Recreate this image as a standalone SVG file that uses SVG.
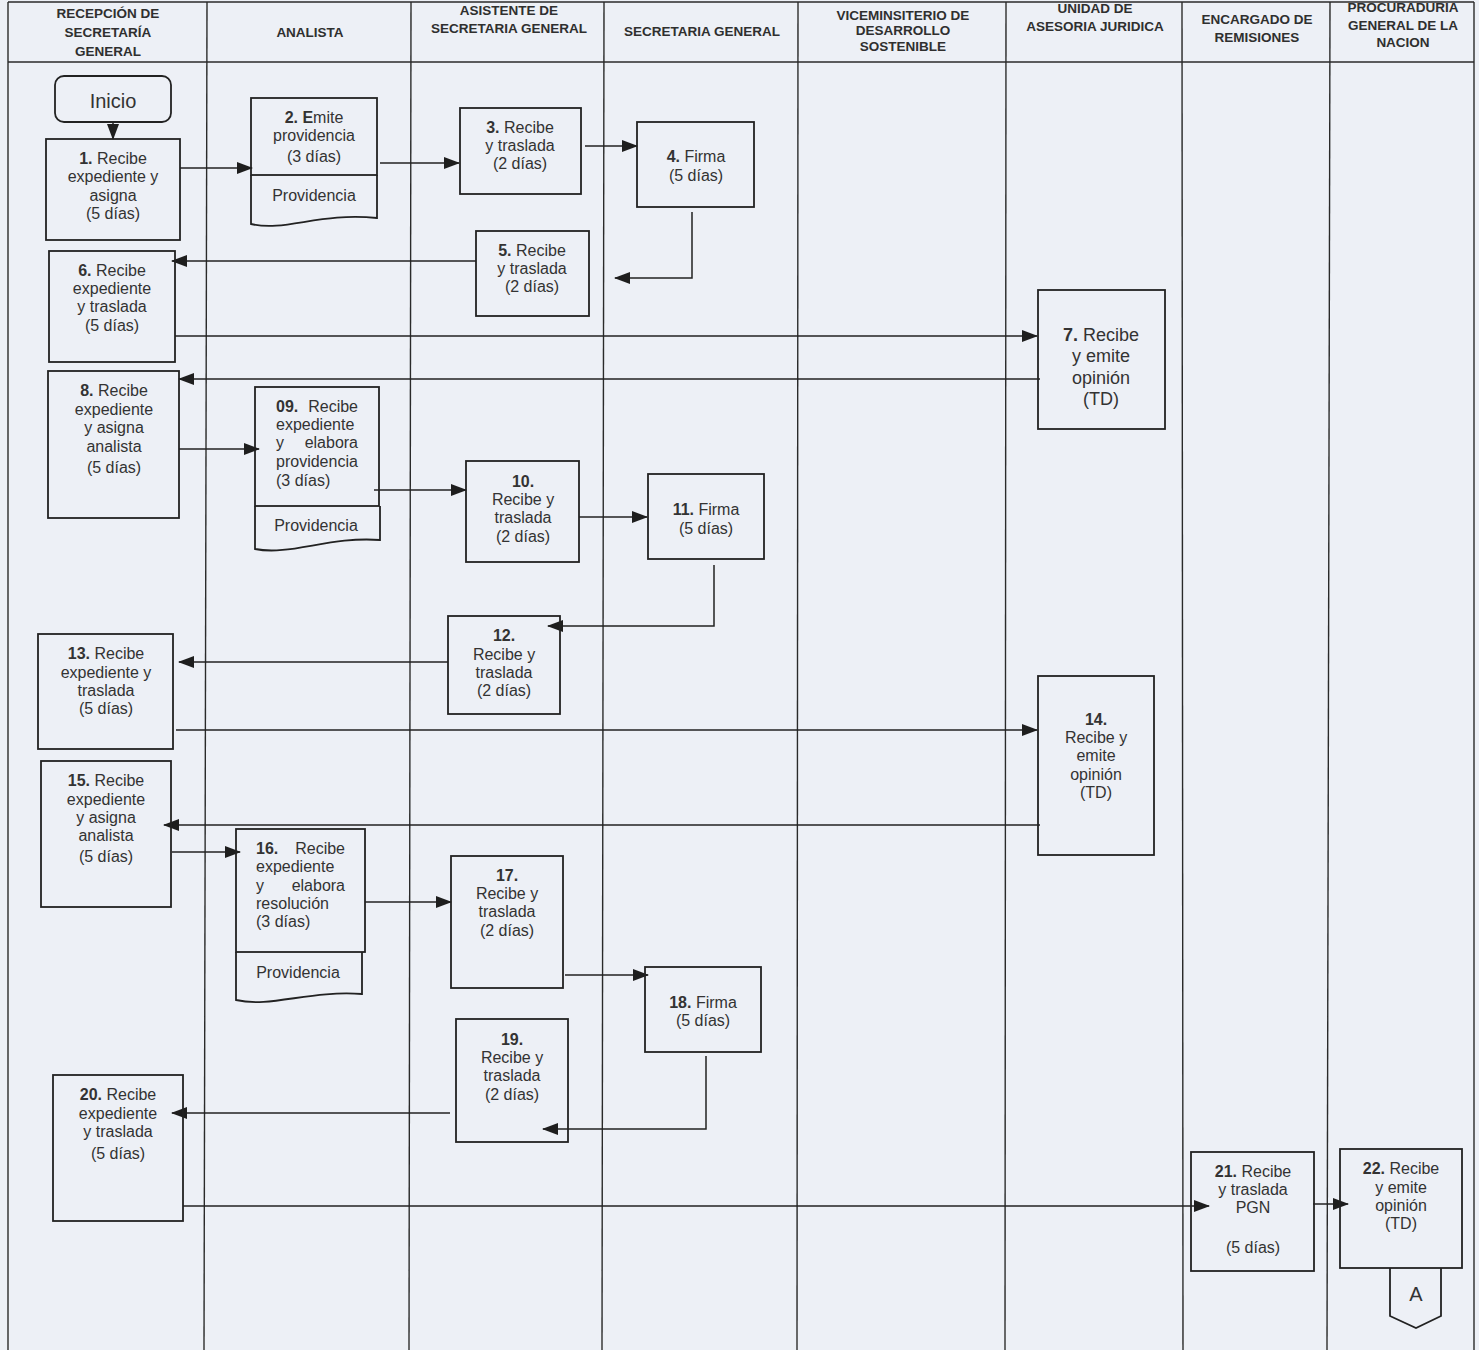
<svg xmlns="http://www.w3.org/2000/svg" width="1479" height="1350" viewBox="0 0 1479 1350">
  <defs>
    <marker id="arrow" markerUnits="userSpaceOnUse" markerWidth="16" markerHeight="12" refX="15" refY="6" orient="auto">
      <path d="M0,0 L16,6 L0,12 z" fill="#1e1e1e"/>
    </marker>
    <style>
      .lane { stroke: #2a2a2a; stroke-width: 1.4; fill: none; }
      .box { fill: none; stroke: #222; stroke-width: 1.8; }
      .conn { fill: none; stroke: #222; stroke-width: 1.5; marker-end: url(#arrow); }
      .h { font-family: "Liberation Sans", Arial, sans-serif; font-size: 13.5px; font-weight: bold; fill: #2f2f2f; text-anchor: middle; }
      .t { font-family: "Liberation Sans", Arial, sans-serif; font-size: 16px; fill: #333; text-anchor: middle; }
      .l { font-family: "Liberation Sans", Arial, sans-serif; font-size: 16px; fill: #333; text-anchor: start; }
      .r { font-family: "Liberation Sans", Arial, sans-serif; font-size: 16px; fill: #333; text-anchor: end; }
      .big { font-size: 18px; }
      .huge { font-size: 20px; }
      .b { font-weight: bold; }
    </style>
  </defs>

  <!-- page background -->
  <rect x="0" y="0" width="1479" height="1350" fill="#edf0f6"/>

  <!-- swimlane grid -->
  <g id="lanes">
    <line class="lane" x1="8" y1="2" x2="1474" y2="2" stroke-width="2"/>
    <line class="lane" x1="8" y1="62" x2="1474" y2="62" stroke-width="2"/>
    <line class="lane" x1="8" y1="2" x2="8" y2="1350"/>
    <line class="lane" x1="207" y1="2" x2="204" y2="1350"/>
    <line class="lane" x1="411" y1="2" x2="409" y2="1350"/>
    <line class="lane" x1="604" y1="2" x2="602" y2="1350"/>
    <line class="lane" x1="798" y1="2" x2="797" y2="1350"/>
    <line class="lane" x1="1006" y1="2" x2="1005" y2="1350"/>
    <line class="lane" x1="1182" y1="2" x2="1183" y2="1350"/>
    <line class="lane" x1="1330" y1="2" x2="1327" y2="1350"/>
    <line class="lane" x1="1474" y1="2" x2="1474" y2="1350"/>
  </g>

  <!-- lane headers -->
  <g id="headers">
    <text class="h" x="108" y="18">RECEPCIÓN DE</text>
    <text class="h" x="108" y="37">SECRETARÍA</text>
    <text class="h" x="108" y="56">GENERAL</text>
    <text class="h" x="310" y="37">ANALISTA</text>
    <text class="h" x="509" y="15">ASISTENTE DE</text>
    <text class="h" x="509" y="33">SECRETARIA GENERAL</text>
    <text class="h" x="702" y="36">SECRETARIA GENERAL</text>
    <text class="h" x="903" y="20">VICEMINSITERIO DE</text>
    <text class="h" x="903" y="35">DESARROLLO</text>
    <text class="h" x="903" y="51">SOSTENIBLE</text>
    <text class="h" x="1095" y="13">UNIDAD DE</text>
    <text class="h" x="1095" y="31">ASESORIA JURIDICA</text>
    <text class="h" x="1257" y="24">ENCARGADO DE</text>
    <text class="h" x="1257" y="42">REMISIONES</text>
    <text class="h" x="1403" y="12">PROCURADURIA</text>
    <text class="h" x="1403" y="30">GENERAL DE LA</text>
    <text class="h" x="1403" y="47">NACION</text>
  </g>

  <!-- connectors -->
  <g id="connectors">
    <path class="conn" d="M113,122 V139"/>
    <path class="conn" d="M180,168 H252"/>
    <path class="conn" d="M380,163 H459"/>
    <path class="conn" d="M585,146 H637"/>
    <path class="conn" d="M692,212 V278 H615"/>
    <path class="conn" d="M476,261 H172"/>
    <path class="conn" d="M175,336 H1037"/>
    <path class="conn" d="M1040,379 H179"/>
    <path class="conn" d="M179,449 H259"/>
    <path class="conn" d="M374,490 H466"/>
    <path class="conn" d="M579,517 H647"/>
    <path class="conn" d="M714,565 V626 H548"/>
    <path class="conn" d="M448,662 H179"/>
    <path class="conn" d="M176,730 H1037"/>
    <path class="conn" d="M1040,825 H164"/>
    <path class="conn" d="M172,852 H240"/>
    <path class="conn" d="M365,902 H451"/>
    <path class="conn" d="M565,975 H648"/>
    <path class="conn" d="M706,1056 V1129 H543"/>
    <path class="conn" d="M450,1113 H172"/>
    <path class="conn" d="M183,1206 H1209"/>
    <path class="conn" d="M1313,1204 H1348"/>
  </g>

  <!-- start -->
  <g id="inicio">
    <rect class="box" x="55" y="76" width="116" height="46" rx="9"/>
    <text class="t huge" x="113" y="108">Inicio</text>
  </g>

  <g id="n1">
    <rect class="box" x="46" y="139" width="134" height="101"/>
    <text class="t" x="113" y="164"><tspan class="b">1.</tspan> Recibe</text>
    <text class="t" x="113" y="182">expediente y</text>
    <text class="t" x="113" y="201">asigna</text>
    <text class="t" x="113" y="219">(5 días)</text>
  </g>

  <g id="n2">
    <rect class="box" x="251" y="98" width="126" height="77"/>
    <path class="box" d="M251,175 V224 C285,232 320,212 377,218 V175"/>
    <text class="t" x="314" y="123"><tspan class="b">2. E</tspan>mite</text>
    <text class="t" x="314" y="141">providencia</text>
    <text class="t" x="314" y="162">(3 días)</text>
    <text class="t" x="314" y="201">Providencia</text>
  </g>

  <g id="n3">
    <rect class="box" x="460" y="108" width="121" height="86"/>
    <text class="t" x="520" y="133"><tspan class="b">3.</tspan> Recibe</text>
    <text class="t" x="520" y="151">y traslada</text>
    <text class="t" x="520" y="169">(2 días)</text>
  </g>

  <g id="n4">
    <rect class="box" x="637" y="122" width="117" height="85"/>
    <text class="t" x="696" y="162"><tspan class="b">4.</tspan> Firma</text>
    <text class="t" x="696" y="181">(5 días)</text>
  </g>

  <g id="n5">
    <rect class="box" x="476" y="231" width="113" height="85"/>
    <text class="t" x="532" y="256"><tspan class="b">5.</tspan> Recibe</text>
    <text class="t" x="532" y="274">y traslada</text>
    <text class="t" x="532" y="292">(2 días)</text>
  </g>

  <g id="n6">
    <rect class="box" x="49" y="251" width="126" height="111"/>
    <text class="t" x="112" y="276"><tspan class="b">6.</tspan> Recibe</text>
    <text class="t" x="112" y="294">expediente</text>
    <text class="t" x="112" y="312">y traslada</text>
    <text class="t" x="112" y="331">(5 días)</text>
  </g>

  <g id="n7">
    <rect class="box" x="1038" y="290" width="127" height="139"/>
    <text class="t big" x="1101" y="341"><tspan class="b">7.</tspan> Recibe</text>
    <text class="t big" x="1101" y="362">y emite</text>
    <text class="t big" x="1101" y="384">opinión</text>
    <text class="t big" x="1101" y="405">(TD)</text>
  </g>

  <g id="n8">
    <rect class="box" x="48" y="371" width="131" height="147"/>
    <text class="t" x="114" y="396"><tspan class="b">8.</tspan> Recibe</text>
    <text class="t" x="114" y="415">expediente</text>
    <text class="t" x="114" y="433">y asigna</text>
    <text class="t" x="114" y="452">analista</text>
    <text class="t" x="114" y="473">(5 días)</text>
  </g>

  <g id="n9">
    <rect class="box" x="255" y="387" width="124" height="119"/>
    <path class="box" d="M255,506 V549 C290,556 330,536 380,540 V506"/>
    <text class="l b" x="276" y="412">09.</text>
    <text class="r" x="358" y="412">Recibe</text>
    <text class="l" x="276" y="430">expediente</text>
    <text class="l" x="276" y="448">y</text>
    <text class="r" x="358" y="448">elabora</text>
    <text class="l" x="276" y="467">providencia</text>
    <text class="l" x="276" y="486">(3 días)</text>
    <text class="t" x="316" y="531">Providencia</text>
  </g>

  <g id="n10">
    <rect class="box" x="466" y="461" width="113" height="101"/>
    <text class="t b" x="523" y="487">10.</text>
    <text class="t" x="523" y="505">Recibe y</text>
    <text class="t" x="523" y="523">traslada</text>
    <text class="t" x="523" y="542">(2 días)</text>
  </g>

  <g id="n11">
    <rect class="box" x="648" y="474" width="116" height="85"/>
    <text class="t" x="706" y="515"><tspan class="b">11.</tspan> Firma</text>
    <text class="t" x="706" y="534">(5 días)</text>
  </g>

  <g id="n12">
    <rect class="box" x="448" y="616" width="112" height="98"/>
    <text class="t b" x="504" y="641">12.</text>
    <text class="t" x="504" y="660">Recibe y</text>
    <text class="t" x="504" y="678">traslada</text>
    <text class="t" x="504" y="696">(2 días)</text>
  </g>

  <g id="n13">
    <rect class="box" x="38" y="634" width="135" height="115"/>
    <text class="t" x="106" y="659"><tspan class="b">13.</tspan> Recibe</text>
    <text class="t" x="106" y="678">expediente y</text>
    <text class="t" x="106" y="696">traslada</text>
    <text class="t" x="106" y="714">(5 días)</text>
  </g>

  <g id="n14">
    <rect class="box" x="1038" y="676" width="116" height="179"/>
    <text class="t b" x="1096" y="725">14.</text>
    <text class="t" x="1096" y="743">Recibe y</text>
    <text class="t" x="1096" y="761">emite</text>
    <text class="t" x="1096" y="780">opinión</text>
    <text class="t" x="1096" y="798">(TD)</text>
  </g>

  <g id="n15">
    <rect class="box" x="41" y="761" width="130" height="146"/>
    <text class="t" x="106" y="786"><tspan class="b">15.</tspan> Recibe</text>
    <text class="t" x="106" y="805">expediente</text>
    <text class="t" x="106" y="823">y asigna</text>
    <text class="t" x="106" y="841">analista</text>
    <text class="t" x="106" y="862">(5 días)</text>
  </g>

  <g id="n16">
    <rect class="box" x="236" y="829" width="129" height="123"/>
    <path class="box" d="M236,952 V1000 C270,1008 310,990 362,994 V952"/>
    <text class="l b" x="256" y="854">16.</text>
    <text class="r" x="345" y="854">Recibe</text>
    <text class="l" x="256" y="872">expediente</text>
    <text class="l" x="256" y="891">y</text>
    <text class="r" x="345" y="891">elabora</text>
    <text class="l" x="256" y="909">resolución</text>
    <text class="l" x="256" y="927">(3 días)</text>
    <text class="t" x="298" y="978">Providencia</text>
  </g>

  <g id="n17">
    <rect class="box" x="451" y="856" width="112" height="132"/>
    <text class="t b" x="507" y="881">17.</text>
    <text class="t" x="507" y="899">Recibe y</text>
    <text class="t" x="507" y="917">traslada</text>
    <text class="t" x="507" y="936">(2 días)</text>
  </g>

  <g id="n18">
    <rect class="box" x="645" y="967" width="116" height="85"/>
    <text class="t" x="703" y="1008"><tspan class="b">18.</tspan> Firma</text>
    <text class="t" x="703" y="1026">(5 días)</text>
  </g>

  <g id="n19">
    <rect class="box" x="456" y="1019" width="112" height="123"/>
    <text class="t b" x="512" y="1045">19.</text>
    <text class="t" x="512" y="1063">Recibe y</text>
    <text class="t" x="512" y="1081">traslada</text>
    <text class="t" x="512" y="1100">(2 días)</text>
  </g>

  <g id="n20">
    <rect class="box" x="53" y="1075" width="130" height="146"/>
    <text class="t" x="118" y="1100"><tspan class="b">20.</tspan> Recibe</text>
    <text class="t" x="118" y="1119">expediente</text>
    <text class="t" x="118" y="1137">y traslada</text>
    <text class="t" x="118" y="1159">(5 días)</text>
  </g>

  <g id="n21">
    <rect class="box" x="1191" y="1152" width="123" height="119"/>
    <text class="t" x="1253" y="1177"><tspan class="b">21.</tspan> Recibe</text>
    <text class="t" x="1253" y="1195">y traslada</text>
    <text class="t" x="1253" y="1213">PGN</text>
    <text class="t" x="1253" y="1253">(5 días)</text>
  </g>

  <g id="n22">
    <rect class="box" x="1340" y="1149" width="122" height="119"/>
    <text class="t" x="1401" y="1174"><tspan class="b">22.</tspan> Recibe</text>
    <text class="t" x="1401" y="1193">y emite</text>
    <text class="t" x="1401" y="1211">opinión</text>
    <text class="t" x="1401" y="1229">(TD)</text>
  </g>

  <!-- off-page connector -->
  <g id="offpage-a">
    <path class="box" d="M1390,1268 V1316 L1416,1328 L1441,1316 V1268"/>
    <text class="t huge" x="1416" y="1301">A</text>
  </g>
</svg>
